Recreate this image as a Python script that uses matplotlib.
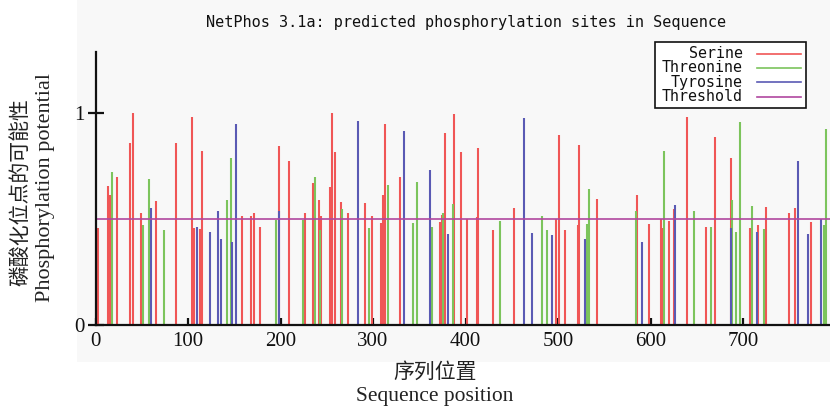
import matplotlib
matplotlib.use("Agg")
import matplotlib.pyplot as plt
from matplotlib.lines import Line2D
from matplotlib.patches import Rectangle

# ---- data ----
serine_pos = [3, 13, 16, 23, 37, 41, 49, 65, 87, 104, 107, 113, 115, 158, 168, 171, 178,
              198, 209, 227, 235, 242, 244, 253, 256, 259, 265, 273, 291, 299, 309, 311,
              313, 329, 372, 375, 378, 388, 395, 402, 412, 414, 430, 452, 498, 501, 508,
              522, 523, 542, 585, 598, 611, 612, 620, 625, 639, 660, 670, 687, 708, 716,
              725, 750, 756, 773]
serine_val = [0.46, 0.656, 0.613, 0.70, 0.86, 1.00, 0.527, 0.585, 0.86, 0.98, 0.46, 0.455,
              0.82, 0.514, 0.514, 0.53, 0.464, 0.846, 0.774, 0.527, 0.668, 0.59, 0.514,
              0.65, 1.00, 0.816, 0.58, 0.527, 0.577, 0.514, 0.483, 0.613, 0.948, 0.70,
              0.487, 0.52, 0.904, 0.995, 0.818, 0.498, 0.508, 0.833, 0.448, 0.55, 0.498,
              0.896, 0.45, 0.47, 0.85, 0.594, 0.613, 0.476, 0.50, 0.46, 0.49, 0.546, 0.98,
              0.464, 0.888, 0.786, 0.46, 0.47, 0.557, 0.53, 0.55, 0.487]

threonine_pos = [18, 51, 58, 74, 142, 147, 195, 224, 237, 243, 266, 296, 316, 343, 348,
                 364, 376, 387, 437, 483, 488, 531, 533, 584, 615, 647, 665, 688, 692,
                 697, 710, 723, 787, 790]
threonine_val = [0.72, 0.47, 0.69, 0.448, 0.59, 0.79, 0.495, 0.495, 0.70, 0.45, 0.546,
                 0.46, 0.66, 0.483, 0.675, 0.464, 0.53, 0.57, 0.489, 0.514, 0.45, 0.476,
                 0.64, 0.54, 0.82, 0.54, 0.464, 0.59, 0.44, 0.958, 0.561, 0.454, 0.47,
                 0.923]

tyrosine_pos = [60, 110, 124, 132, 136, 148, 152, 198, 284, 333, 362, 381, 463, 472, 493,
                529, 591, 626, 687, 715, 759, 770, 784]
tyrosine_val = [0.55, 0.464, 0.44, 0.54, 0.404, 0.393, 0.95, 0.54, 0.964, 0.915, 0.73,
                0.428, 0.978, 0.435, 0.423, 0.404, 0.39, 0.565, 0.46, 0.44, 0.774, 0.428,
                0.498]

threshold = 0.5
x_ticks = [0, 100, 200, 300, 400, 500, 600, 700]
y_ticks = [0, 1]
legend_labels = ["Serine", "Threonine", "Tyrosine", "Threshold"]

title = "NetPhos 3.1a: predicted phosphorylation sites in Sequence"
xlabel_cn = "序列位置"
xlabel_en = "Sequence position"
ylabel_cn = "磷酸化位点的可能性"
ylabel_en = "Phosphorylation potential"

# ---- styles ----
C_SER = "#f05656"
C_THR = "#7cc45c"
C_TYR = "#5a5ab4"
C_THRESH = "#b0479f"
W, H = 830, 409

fig = plt.figure(figsize=(W / 100, H / 100), dpi=100)
fig.patch.set_facecolor("white")


def fx(px):
    return px / W


def fy(py):
    return 1 - py / H


# light background of the graphic
fig.patches.append(Rectangle((fx(77), fy(362)), fx(830) - fx(77), fy(0) - fy(362),
                             transform=fig.transFigure, facecolor="#f8f8f8",
                             edgecolor="none", zorder=-10))

ax = fig.add_axes([fx(95.5), fy(325), fx(830) - fx(95.5), fy(52) - fy(325)])
ax.patch.set_alpha(0)
ax.set_xlim(0, 794)
ax.set_ylim(0, 1.288)

ax.vlines(serine_pos, 0, serine_val, color=C_SER, linewidth=1.5, zorder=2)
ax.vlines(threonine_pos, 0, threonine_val, color=C_THR, linewidth=1.5, zorder=3)
ax.vlines(tyrosine_pos, 0, tyrosine_val, color=C_TYR, linewidth=1.5, zorder=4)
ax.axhline(threshold, color=C_THRESH, linewidth=1.2, zorder=5)

for s in ["top", "right"]:
    ax.spines[s].set_visible(False)
for s in ["left", "bottom"]:
    ax.spines[s].set_linewidth(1.6)
    ax.spines[s].set_color("#111111")
    ax.spines[s].set_zorder(6)

ax.set_xticks(x_ticks)
ax.set_yticks(y_ticks)
ax.set_xticklabels([str(v) for v in x_ticks], family="Liberation Serif", fontsize=15)
ax.set_yticklabels([str(v) for v in y_ticks], family="Liberation Serif", fontsize=15)
ax.tick_params(axis="x", direction="in", length=5, width=1.6, pad=5, colors="#111111")
ax.tick_params(axis="y", direction="inout", length=12, width=1.6, pad=2, colors="#111111")

# title
fig.text(fx(466), fy(22), title, ha="center", va="center",
         family="DejaVu Sans Mono", fontsize=11, color="#111111")

# axis labels
fig.text(fx(435), fy(372), xlabel_cn, ha="center", va="center",
         family=["Noto Sans CJK SC", "DejaVu Sans"], fontsize=15, color="#222222")
fig.text(fx(435), fy(397), xlabel_en, ha="center", va="center",
         family="Liberation Serif", fontsize=15.5, color="#222222")
fig.text(fx(20), fy(192), ylabel_cn, ha="center", va="center", rotation=90,
         family=["Noto Sans CJK SC", "DejaVu Sans"], fontsize=15, color="#222222")
fig.text(fx(46), fy(188), ylabel_en, ha="center", va="center", rotation=90,
         family="Liberation Serif", fontsize=16, color="#222222")

# legend box
fig.patches.append(Rectangle((fx(655), fy(107.7)), fx(806) - fx(655), fy(41.7) - fy(107.7),
                             transform=fig.transFigure, facecolor="white",
                             edgecolor="#111111", linewidth=1.2, zorder=10))
rows_y = [54, 68, 82, 96.5]
colors = [C_SER, C_THR, C_TYR, C_THRESH]
for lab, yy, c in zip(legend_labels, rows_y, colors):
    fig.text(fx(743), fy(yy), lab, ha="right", va="center", family="DejaVu Sans Mono",
             fontsize=10.8, color="#111111", zorder=11)
    fig.lines.append(Line2D([fx(757), fx(801)], [fy(yy), fy(yy)], transform=fig.transFigure,
                            color=c, linewidth=1.2, zorder=11))

fig.savefig("out.png", dpi=100)
